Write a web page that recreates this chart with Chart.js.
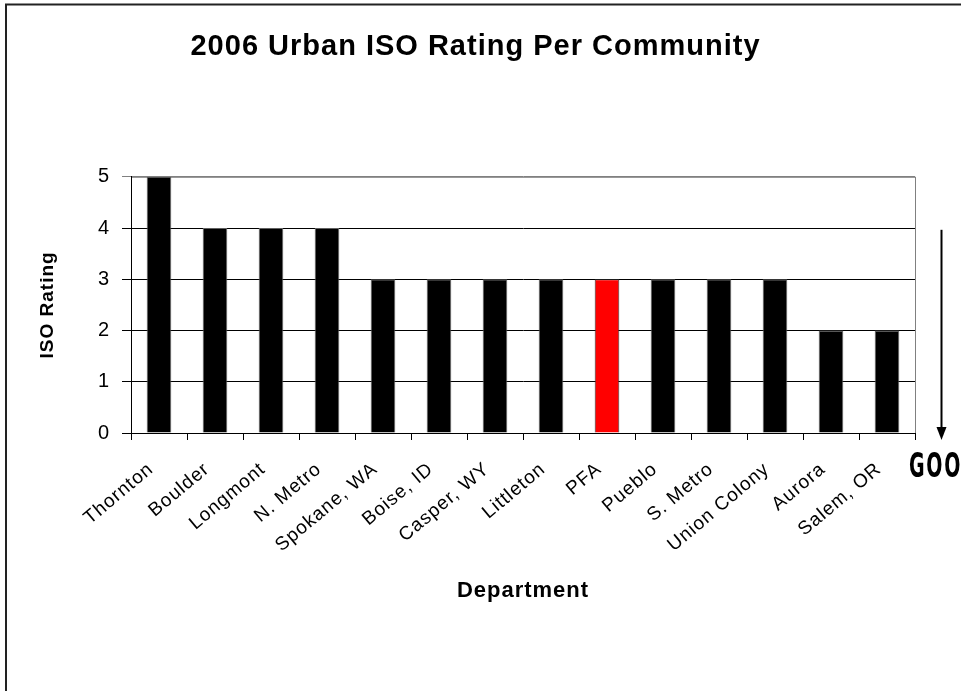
<!DOCTYPE html>
<html lang="en">
<head>
  <meta charset="UTF-8" />
  <title>2006 Urban ISO Rating Per Community</title>
  <script src="https://cdn.jsdelivr.net/npm/chart.js"></script>
  <style>
    html, body {
      margin: 0;
      padding: 0;
      background: #ffffff;
      overflow: hidden;
    }
    #wrap {
      position: relative;
      width: 961px;
      height: 691px;
    }
  </style>
</head>
<body>
  <div id="wrap">
    <canvas id="isoChart" width="961" height="691"></canvas>
  </div>

  <script>
    const departments = ['Thornton', 'Boulder', 'Longmont', 'N. Metro', 'Spokane, WA', 'Boise, ID',
      'Casper, WY', 'Littleton', 'PFA', 'Pueblo', 'S. Metro', 'Union Colony', 'Aurora', 'Salem, OR'];
    const ratings = [5, 4, 4, 4, 3, 3, 3, 3, 3, 3, 3, 3, 2, 2];
    const highlighted = 'PFA';
    const yTicks = [0, 1, 2, 3, 4, 5];

    const FONT = 'Liberation Sans, Arial';

    // the old Excel picture is stretched sideways, so its text runs wide
    const spacing = {
      id: 'spacing',
      beforeLayout(chart) { chart.ctx.letterSpacing = '1px'; },
      beforeDraw(chart) { chart.ctx.letterSpacing = '1px'; }
    };

    // outer frame, plot border, and the "GOOD" arrow on the right
    const extras = {
      id: 'extras',
      beforeDraw(chart) {
        const ctx = chart.ctx;
        const a = chart.chartArea;
        ctx.save();
        ctx.fillStyle = '#ffffff';
        ctx.fillRect(0, 0, chart.width, chart.height);
        ctx.strokeStyle = '#222';
        ctx.lineWidth = 2;
        ctx.beginPath();
        ctx.moveTo(6, chart.height);
        ctx.lineTo(6, 4.5);
        ctx.lineTo(chart.width, 4.5);
        ctx.stroke();
        ctx.strokeStyle = '#808080';
        ctx.lineWidth = 1;
        ctx.strokeRect(a.left + 0.5, a.top + 0.5, a.right - a.left, a.bottom - a.top);
        ctx.restore();
      },
      afterDraw(chart) {
        const ctx = chart.ctx;
        const a = chart.chartArea;
        const x = a.right + 26.5;
        ctx.save();
        ctx.strokeStyle = '#000';
        ctx.fillStyle = '#000';
        ctx.lineWidth = 2;
        ctx.beginPath();
        ctx.moveTo(x, a.top + 53);
        ctx.lineTo(x, a.bottom - 2);
        ctx.stroke();
        ctx.beginPath();
        ctx.moveTo(x - 5, a.bottom - 6);
        ctx.lineTo(x + 5, a.bottom - 6);
        ctx.lineTo(x, a.bottom + 7);
        ctx.closePath();
        ctx.fill();
        ctx.letterSpacing = '3px';
        ctx.font = 'bold 34px "DejaVu Sans"';
        ctx.textBaseline = 'alphabetic';
        ctx.textAlign = 'left';
        ctx.translate(a.right - 6, a.bottom + 44);
        ctx.scale(0.56, 1);
        ctx.fillText('GOOD', 0, 0);
        ctx.restore();
      }
    };

    new Chart(document.getElementById('isoChart'), {
      type: 'bar',
      data: {
        labels: departments,
        datasets: [{
          label: 'ISO Rating',
          data: ratings,
          backgroundColor: departments.map(d => d === highlighted ? '#ff0000' : '#000000'),
          borderColor: departments.map(d => d === highlighted ? '#333333' : '#606060'),
          borderWidth: 1,
          barPercentage: 0.44,
          categoryPercentage: 1.0
        }]
      },
      options: {
        responsive: false,
        animation: false,
        layout: {
          padding: { left: 36, right: 46, top: 0, bottom: 87 }
        },
        plugins: {
          legend: { display: false },
          tooltip: { enabled: false },
          title: {
            display: true,
            text: '2006 Urban ISO Rating Per Community',
            color: '#000',
            font: { family: FONT, size: 29, weight: 'bold' },
            padding: { top: 30, bottom: 112 }
          }
        },
        scales: {
          x: {
            afterFit: s => { s.height = 171; },
            grid: {
              display: true,
              drawOnChartArea: false,
              offset: true,
              tickLength: 7,
              color: '#000'
            },
            border: { color: '#000', width: 1 },
            ticks: {
              autoSkip: false,
              minRotation: 40,
              maxRotation: 40,
              padding: 18,
              labelOffset: -8,
              color: '#000',
              font: { family: FONT, size: 19 }
            },
            title: {
              display: true,
              text: 'Department',
              color: '#000',
              padding: 0,
              font: { family: FONT, size: 22, weight: 'bold' }
            }
          },
          y: {
            min: 0,
            max: 5,
            afterFit: s => { s.width = 95; },
            afterBuildTicks: s => { s.ticks = yTicks.map(v => ({ value: v })); },
            grid: {
              tickLength: 9,
              color: c => c.tick && c.tick.value === 5 ? '#808080' : '#000'
            },
            border: { color: '#000', width: 1 },
            ticks: {
              padding: 12,
              color: '#000',
              font: { family: FONT, size: 20 }
            },
            title: {
              display: true,
              text: 'ISO Rating',
              color: '#000',
              padding: 0,
              font: { family: FONT, size: 19, weight: 'bold' }
            }
          }
        }
      },
      plugins: [spacing, extras]
    });
  </script>
</body>
</html>
